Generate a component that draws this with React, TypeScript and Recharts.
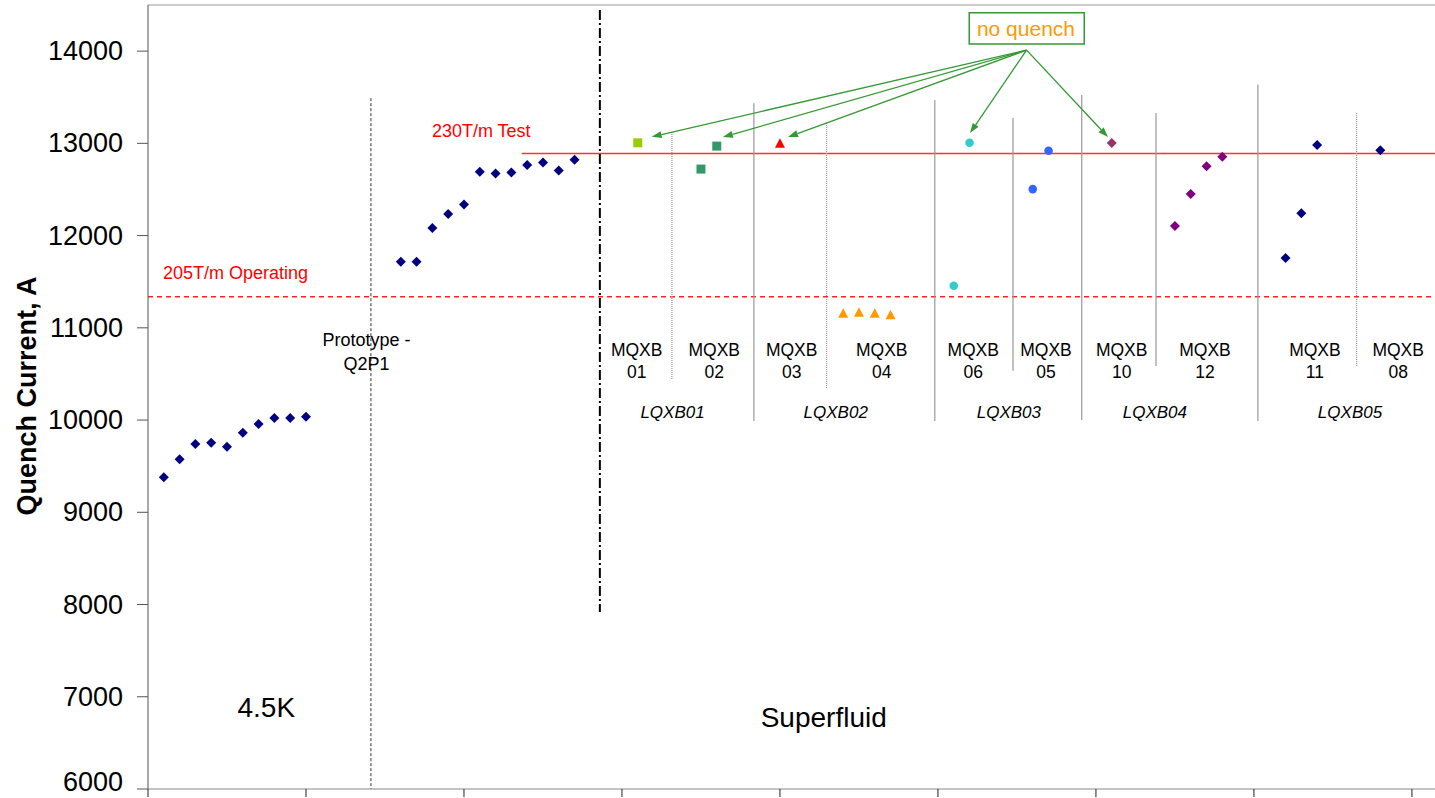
import React from 'react';
import {ScatterChart, Scatter, XAxis, YAxis, ReferenceLine, ReferenceDot, ReferenceArea} from 'recharts';

const FONT = "'Liberation Sans', Arial, Helvetica, sans-serif";
const CHART_W = 1435;
const CHART_H = 798;

// coil index along the x axis and quench current (A)
const run45KIndex = [1, 2, 3, 4, 5, 6, 7, 8, 9, 10];
const run45KCurrent = [9379, 9574, 9740, 9754, 9711, 9862, 9957, 10022, 10022, 10036];

const protoIndex = [16, 17, 18, 19, 20, 21, 22, 23, 24, 25, 26, 27];
const protoCurrent = [11716, 11716, 12081, 12233, 12338, 12692, 12674, 12685, 12764, 12793, 12707, 12822];

const mqxb01Index = [31];
const mqxb01Current = [13006];
const mqxb02Index = [35, 36];
const mqxb02Current = [12721, 12970];
const mqxb03Index = [40];
const mqxb03Current = [13000];
const mqxb04Index = [44, 45, 46, 47];
const mqxb04Current = [11157, 11170, 11157, 11141];
const mqxb06Index = [51, 52];
const mqxb06Current = [11456, 13006];
const mqxb05Index = [56, 57];
const mqxb05Current = [12504, 12919];
const mqxb10Index = [61];
const mqxb10Current = [13003];
const mqxb12Index = [65, 66, 67, 68];
const mqxb12Current = [12103, 12450, 12753, 12854];
const mqxb11Index = [72, 73, 74];
const mqxb11Current = [11756, 12241, 12981];
const mqxb08Index = [78];
const mqxb08Current = [12924];

const yTicks = [6000, 7000, 8000, 9000, 10000, 11000, 12000, 13000, 14000];
const xTicks = [0, 10, 20, 30, 40, 50, 60, 70, 80];

const testLevel = 12891;
const operatingLevel = 11337;

// magnet labels
const moduleNums = ['01', '02', '03', '04', '06', '05', '10', '12', '11', '08'];
const moduleX = [30.93, 35.84, 40.74, 46.44, 52.23, 56.84, 61.63, 66.9, 73.86, 79.13];
const lqxbNames = ['LQXB01', 'LQXB02', 'LQXB03', 'LQXB04', 'LQXB05'];
const lqxbX = [33.2, 43.53, 54.49, 63.73, 76.08];

// separators between magnets / cryo-assemblies
const dividers = [
  {x: 33.16, top: 13122, bottom: 10444, dotted: true},
  {x: 38.35, top: 13436, bottom: 9989},
  {x: 42.95, top: 13220, bottom: 10347, dotted: true},
  {x: 49.8, top: 13469, bottom: 9989},
  {x: 54.75, top: 13274, bottom: 10534},
  {x: 59.1, top: 13523, bottom: 10000},
  {x: 63.8, top: 13328, bottom: 10585},
  {x: 70.25, top: 13637, bottom: 9989},
  {x: 76.5, top: 13328, bottom: 10575, dotted: true},
];

// "no quench" arrows
const arrowFrom = {x: 55.61, y: 14011};
const arrowTargets = [
  {x: 31.88, y: 13071},
  {x: 36.39, y: 13068},
  {x: 40.51, y: 13068},
  {x: 52.03, y: 13111},
  {x: 60.76, y: 13068},
];

const pts = (xs: number[], ys: number[]) => xs.map((x, i) => ({x, y: ys[i]}));

const diamond = (color: string) => (p: any) => {
  const {cx, cy} = p;
  const r = 5;
  return <path d={`M${cx},${cy - r}L${cx + r},${cy}L${cx},${cy + r}L${cx - r},${cy}Z`} fill={color}/>;
};
const square = (color: string) => (p: any) => (
  <rect x={p.cx - 4.5} y={p.cy - 4.5} width={9} height={9} fill={color}/>
);
const triangle = (color: string) => (p: any) => {
  const {cx, cy} = p;
  return <path d={`M${cx},${cy - 5}L${cx + 5},${cy + 4.5}L${cx - 5},${cy + 4.5}Z`} fill={color}/>;
};
const circle = (color: string) => (p: any) => <circle cx={p.cx} cy={p.cy} r={4.3} fill={color}/>;

const label = (text: string, size: number, color = '#000', anchor = 'middle', italic = false) => (p: any) => (
  <text x={p.cx} y={p.cy} fontSize={size} fill={color} textAnchor={anchor} dominantBaseline="central"
        fontFamily={FONT} fontStyle={italic ? 'italic' : 'normal'}>{text}</text>
);

const arrowShape = (p: any) => {
  const {x1, y1, x2, y2} = p;
  const a = Math.atan2(y2 - y1, x2 - x1);
  const len = 10, w = 3.5;
  const bx = x2 - len * Math.cos(a), by = y2 - len * Math.sin(a);
  const nx = -Math.sin(a) * w, ny = Math.cos(a) * w;
  return (
    <g>
      <line x1={x1} y1={y1} x2={bx} y2={by} stroke="#339933" strokeWidth={1.3}/>
      <polygon points={`${x2},${y2} ${bx + nx},${by + ny} ${bx - nx},${by - ny}`} fill="#339933"/>
    </g>
  );
};

// keep the bottom label (6000) inside the picture
const YTick = (p: any) => {
  const baseline = Math.min(p.y + 9, CHART_H - 7);
  return (
    <text x={p.x} y={baseline} textAnchor="end" fontSize={27} fill="#000" fontFamily={FONT}>
      {p.payload.value}
    </text>
  );
};

export default function App() {
  return (
    <div style={{position: 'absolute', left: 0, top: 0, background: '#fff'}}>
      <ScatterChart width={CHART_W} height={CHART_H} margin={{top: 5, right: 0, bottom: 0, left: 0}}>
        <XAxis type="number" dataKey="x" domain={[0, 81.46]} allowDataOverflow ticks={xTicks} interval={0}
               height={9} tickSize={8} tick={() => <g/>} axisLine={{stroke: '#888'}} tickLine={{stroke: '#222'}}/>
        <YAxis type="number" dataKey="y" domain={[6000, 14500]} allowDataOverflow ticks={yTicks} interval={0}
               width={148} tickSize={11} tickMargin={14} axisLine={{stroke: '#555'}} tickLine={{stroke: '#555'}}
               tick={YTick}
               label={{
                 content: (props: any) => {
                   const vb = props.viewBox || {x: 0, y: 5, height: 784};
                   const x = vb.x + 27, y = vb.y + vb.height / 2 - 1;
                   return (
                     <text x={x} y={y} transform={`rotate(-90, ${x}, ${y})`} textAnchor="middle"
                           dominantBaseline="central" fontSize={27} fontWeight="bold" fontFamily={FONT}
                           fill="#000">Quench Current, A</text>
                   );
                 },
               }}/>

        <ReferenceLine y={14500} stroke="#999" ifOverflow="visible"/>
        <ReferenceLine y={operatingLevel} stroke="#FF2222" strokeDasharray="5 4" strokeWidth={1.3} ifOverflow="visible"/>
        <ReferenceLine segment={[{x: 23.65, y: testLevel}, {x: 81.46, y: testLevel}]} stroke="#FF3333"
                       strokeWidth={1.5} ifOverflow="visible"/>
        <ReferenceLine segment={[{x: 14.11, y: 13490}, {x: 14.11, y: 6000}]} stroke="#333"
                       strokeDasharray="3 2" ifOverflow="visible"/>
        <ReferenceLine segment={[{x: 28.6, y: 14445}, {x: 28.6, y: 7920}]} stroke="#000" strokeWidth={2}
                       strokeDasharray="10 3 2 3" ifOverflow="visible"/>
        {dividers.map((d, i) => (
          <ReferenceLine key={`div-${i}`} segment={[{x: d.x, y: d.top}, {x: d.x, y: d.bottom}]}
                         stroke="#999" strokeWidth={1.2} strokeDasharray={d.dotted ? '1 1' : undefined}
                         ifOverflow="visible"/>
        ))}

        <ReferenceArea x1={51.98} x2={59.26} y1={14076} y2={14415} fill="#fff" fillOpacity={1}
                       stroke="#339933" strokeWidth={1.5} ifOverflow="visible"/>
        <ReferenceDot x={55.57} y={14249} r={1} ifOverflow="visible" shape={label('no quench', 21, '#FF9900')}/>
        {arrowTargets.map((t, i) => (
          <ReferenceLine key={`arr-${i}`} segment={[arrowFrom, t]} ifOverflow="visible" shape={arrowShape}/>
        ))}

        <ReferenceDot x={0.95} y={11593} r={1} ifOverflow="visible" shape={label('205T/m Operating', 18, '#FF0000', 'start')}/>
        <ReferenceDot x={17.97} y={13133} r={1} ifOverflow="visible" shape={label('230T/m Test', 18, '#FF0000', 'start')}/>
        <ReferenceDot x={13.83} y={10867} r={1} ifOverflow="visible" shape={label('Prototype -', 18)}/>
        <ReferenceDot x={13.83} y={10607} r={1} ifOverflow="visible" shape={label('Q2P1', 18)}/>
        <ReferenceDot x={7.49} y={6889} r={1} ifOverflow="visible" shape={label('4.5K', 28)}/>
        <ReferenceDot x={42.77} y={6770} r={1} ifOverflow="visible" shape={label('Superfluid', 28)}/>
        {moduleNums.map((n, i) => (
          <ReferenceDot key={`mq-${i}`} x={moduleX[i]} y={10759} r={1} ifOverflow="visible" shape={label('MQXB', 17.5)}/>
        ))}
        {moduleNums.map((n, i) => (
          <ReferenceDot key={`mqn-${i}`} x={moduleX[i]} y={10520} r={1} ifOverflow="visible" shape={label(n, 17.5)}/>
        ))}
        {lqxbNames.map((n, i) => (
          <ReferenceDot key={`lq-${i}`} x={lqxbX[i]} y={10087} r={1} ifOverflow="visible" shape={label(n, 17, '#000', 'middle', true)}/>
        ))}

        <Scatter data={pts(run45KIndex, run45KCurrent)} shape={diamond('#000080')} isAnimationActive={false}/>
        <Scatter data={pts(protoIndex, protoCurrent)} shape={diamond('#000080')} isAnimationActive={false}/>
        <Scatter data={pts(mqxb01Index, mqxb01Current)} shape={square('#99CC00')} isAnimationActive={false}/>
        <Scatter data={pts(mqxb02Index, mqxb02Current)} shape={square('#339966')} isAnimationActive={false}/>
        <Scatter data={pts(mqxb03Index, mqxb03Current)} shape={triangle('#FF0000')} isAnimationActive={false}/>
        <Scatter data={pts(mqxb04Index, mqxb04Current)} shape={triangle('#FF9900')} isAnimationActive={false}/>
        <Scatter data={pts(mqxb06Index, mqxb06Current)} shape={circle('#33CCCC')} isAnimationActive={false}/>
        <Scatter data={pts(mqxb05Index, mqxb05Current)} shape={circle('#3366FF')} isAnimationActive={false}/>
        <Scatter data={pts(mqxb10Index, mqxb10Current)} shape={diamond('#993366')} isAnimationActive={false}/>
        <Scatter data={pts(mqxb12Index, mqxb12Current)} shape={diamond('#800080')} isAnimationActive={false}/>
        <Scatter data={pts(mqxb11Index, mqxb11Current)} shape={diamond('#000080')} isAnimationActive={false}/>
        <Scatter data={pts(mqxb08Index, mqxb08Current)} shape={diamond('#000080')} isAnimationActive={false}/>
      </ScatterChart>
    </div>
  );
}
